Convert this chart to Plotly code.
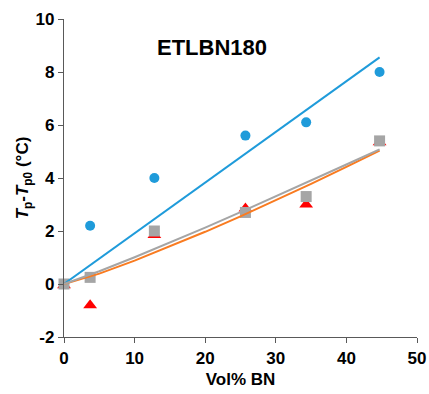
import plotly.graph_objects as go

vol_bn = [0, 3.7, 12.8, 25.7, 34.3, 44.7]
blue_pts = [0, 2.2, 4.0, 5.6, 6.1, 8.0]
red_pts = [-0.05, -0.8, 1.85, 2.85, 3.0, 5.35]
grey_pts = [0, 0.25, 2.0, 2.7, 3.3, 5.4]

blue_fit_x = [0, 44.7]
blue_fit_y = [0, 8.55]
fit_x = [0, 5, 10, 15, 20, 25, 30, 35, 40, 44.7]
orange_fit_y = [0, 0.39, 0.88, 1.41, 1.97, 2.55, 3.16, 3.78, 4.42, 5.03]
grey_fit_y = [0, 0.48, 1.01, 1.56, 2.13, 2.71, 3.30, 3.90, 4.51, 5.08]

x_ticks = [0, 10, 20, 30, 40, 50]
y_ticks = [-2, 0, 2, 4, 6, 8, 10]

BLUE = "#1F9BDA"
ORANGE = "#F97B20"
GREY = "#A5A5A5"
RED = "#FF0000"
AXIS = "#595959"
FONT = "Liberation Sans, Arial, sans-serif"

fig = go.Figure()
fig.add_trace(go.Scatter(x=vol_bn, y=blue_pts, mode="markers",
                         marker=dict(symbol="circle", size=10, color=BLUE),
                         cliponaxis=False))
fig.add_trace(go.Scatter(x=vol_bn, y=red_pts, mode="markers",
                         marker=dict(symbol="triangle-up", size=12, color=RED),
                         cliponaxis=False))
fig.add_trace(go.Scatter(x=vol_bn, y=grey_pts, mode="markers",
                         marker=dict(symbol="square", size=11, color=GREY),
                         cliponaxis=False))
fig.add_trace(go.Scatter(x=blue_fit_x, y=blue_fit_y, mode="lines",
                         line=dict(color=BLUE, width=2), cliponaxis=False))
fig.add_trace(go.Scatter(x=fit_x, y=orange_fit_y, mode="lines",
                         line=dict(color=ORANGE, width=2), cliponaxis=False))
fig.add_trace(go.Scatter(x=fit_x, y=grey_fit_y, mode="lines",
                         line=dict(color=GREY, width=2), cliponaxis=False))

axis_common = dict(showline=True, linecolor=AXIS, linewidth=1.3,
                   ticks="outside", ticklen=5, tickcolor=AXIS, tickwidth=1.3,
                   showgrid=False, zeroline=False, automargin=False,
                   tickfont=dict(family=FONT, size=17, color="black"))

fig.update_layout(
    width=429, height=394,
    margin=dict(l=64, r=12, t=19, b=57),
    paper_bgcolor="white", plot_bgcolor="white",
    showlegend=False,
    xaxis=dict(range=[0, 50], tickvals=x_ticks,
               ticktext=["<b>%d</b>" % v for v in x_ticks],
               title=dict(text="<b>Vol% BN</b>", standoff=6,
                          font=dict(family=FONT, size=17, color="black")),
               **axis_common),
    yaxis=dict(range=[-2, 10], tickvals=y_ticks,
               ticktext=["<b>%d</b>" % v for v in y_ticks],
               title=dict(text="<b><i>T</i><sub>p</sub>-<i>T</i><sub>p0</sub> (°C)</b>", standoff=2,
                          font=dict(family=FONT, size=17, color="black")),
               **axis_common),
    annotations=[dict(text="<b>ETLBN180</b>", xref="paper", yref="paper", x=0.419, y=0.909,
                      xanchor="center", yanchor="middle", showarrow=False,
                      font=dict(family=FONT, size=22, color="black"))],
)

fig.write_html("out.html")
